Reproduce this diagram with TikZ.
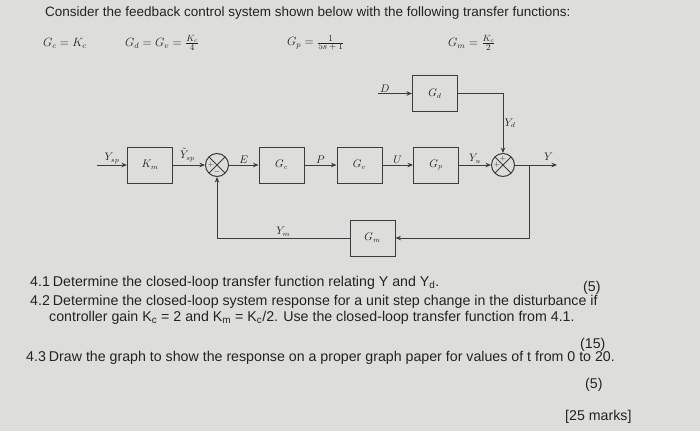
\documentclass[tikz,border=0pt]{standalone}
\usepackage[no-math]{fontspec}
\setmainfont{Liberation Sans}
\usetikzlibrary{arrows.meta,positioning}
\definecolor{paper}{RGB}{221,221,219}
\definecolor{ink}{RGB}{35,35,35}
\definecolor{wirec}{RGB}{60,60,60}
\newcommand{\smfrac}[2]{\frac{\hbox{\fontsize{9}{10}\selectfont$#1$}}{\hbox{\fontsize{9}{10}\selectfont$#2$}}}

\begin{document}
\begin{tikzpicture}[
  x=1pt, y=-1pt,
  every node/.style={text=ink},
  blk/.style={draw=wirec, line width=1pt, minimum width=45pt, minimum height=36pt,
              inner sep=0pt, font=\fontsize{10.5}{12}\selectfont},
  sumj/.style={draw=wirec, circle, line width=1pt, minimum size=23pt, inner sep=0pt,
               path picture={\draw[wirec, line width=0.9pt]
                 (path picture bounding box.north west) -- (path picture bounding box.south east)
                 (path picture bounding box.north east) -- (path picture bounding box.south west);}},
  sig/.style={font=\fontsize{10.5}{12}\selectfont, inner sep=1pt},
  sgn/.style={font=\fontsize{7.5}{8}\selectfont, inner sep=0pt},
  sigline/.style={draw=wirec, line width=1pt},
  fml/.style={anchor=west, inner sep=0pt, font=\fontsize{12}{14}\selectfont},
  q/.style={anchor=west, inner sep=0pt, font=\fontsize{14.2}{16}\selectfont},
  >={Stealth[length=5.5pt,width=4.5pt]}
]
\fill[paper] (0,0) rectangle (700,431);
\useasboundingbox (0,0) rectangle (700,431);

% statement and transfer functions
\node[anchor=west, inner sep=0pt, font=\fontsize{13.5}{15}\selectfont] (title) at (45,13)
  {Consider the feedback control system shown below with the following transfer functions:};
\node[fml] (fgc) at (43,43) {$G_c = K_c$};
\node[fml] (fgd) at (125,43) {$G_d = G_v = \smfrac{K_c}{4}$};
\node[fml] (fgp) at (287,43) {$G_p = \smfrac{1}{5s+1}$};
\node[fml] (fgm) at (448,43) {$G_m = \smfrac{K_c}{2}$};

% block diagram
\node[blk] (km) at (150,165) {$K_m$};
\node[sumj] (s1) at (217,165) {};
\node[blk] (gc) at (281.5,165) {$G_c$};
\node[blk] (gv) at (359.5,165) {$G_v$};
\node[blk] (gp) at (436,165) {$G_p$};
\node[sumj] (s2) at (503,165) {};
\node[blk] (gd) at (435,93.5) {$G_d$};
\node[blk] (gm) at (372.5,238) {$G_m$};

\node[sgn] (s1p) at ([xshift=-6pt]s1.center) {$+$};
\node[sgn] (s1m) at ([yshift=-6.5pt]s1.center) {$-$};
\node[sgn] (s2t) at ([yshift=6.5pt]s2.center) {$+$};
\node[sgn] (s2l) at ([xshift=-6pt]s2.center) {$+$};

\coordinate (ysp) at (97,165);
\coordinate (dist) at (378,93.5);
\coordinate (yout) at (557,165);
\coordinate (br) at (529,165);

\draw[sigline, ->] (ysp) -- (km) node[sig, midway, above] {$Y_{sp}$};
\draw[sigline, ->] (km) -- (s1) node[sig, pos=0.45, above=2pt] {$\tilde{Y}_{sp}$};
\draw[sigline, ->] (s1) -- (gc) node[sig, midway, above] {$E$};
\draw[sigline, ->] (gc) -- (gv) node[sig, midway, above] {$P$};
\draw[sigline, ->] (gv) -- (gp) node[sig, midway, above] {$U$};
\draw[sigline, ->] (gp) -- (s2) node[sig, midway, above] {$Y_u$};
\draw[sigline, ->] (dist) -- (gd) node[sig, pos=0.2, above] {$D$};
\draw[sigline, ->] (gd) -| (s2) node[sig, pos=0.75, right] {$Y_d$};
\draw[sigline, ->] (s2) -- (yout) node[sig, pos=0.8, above=3pt] {$Y$};
\draw[sigline, ->] (br) |- (gm);
\draw[sigline, ->] (gm) -| (s1) node[sig, pos=0.25, above] {$Y_m$};

% questions
\node[q] (q1) at (30,283)
  {4.1\hspace{3pt}Determine the closed-loop transfer function relating Y and Y\textsubscript{d}.};
\node[q] (q2) at (30,302)
  {4.2\hspace{3pt}Determine the closed-loop system response for a unit step change in the disturbance if};
\node[q] (q2b) at (49,318)
  {controller gain K\textsubscript{c} = 2 and K\textsubscript{m} = K\textsubscript{c}/2. Use the closed-loop transfer function from 4.1.};
\node[q] (q3) at (26,358)
  {4.3\hspace{3pt}Draw the graph to show the response on a proper graph paper for values of t from 0 to 20.};
\node[q] (m1) at (583,288) {(5)};
\node[q] (m2) at (580,345) {(15)};
\node[q] (m3) at (585,385) {(5)};
\node[q] (m4) at (565,417) {[25 marks]};
\end{tikzpicture}
\end{document}
